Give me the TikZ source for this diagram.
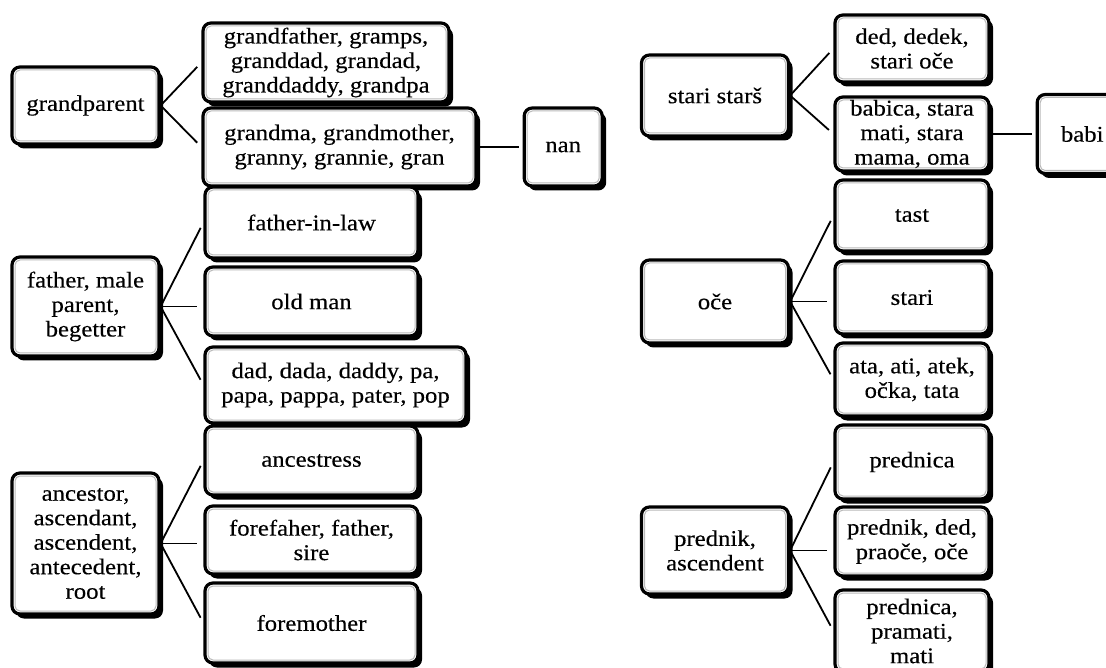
\documentclass[tikz,border=0pt]{standalone}
\usepackage{fontspec}
\setmainfont[FakeStretch=1.1]{Liberation Serif}
\newfontfamily\boxfont[FakeStretch=1.1,FakeBold=0.3]{Liberation Serif}
\usepackage{tikz}
\usetikzlibrary{shadows,positioning}

\begin{document}
\begin{tikzpicture}[x=1pt,y=-1pt,node distance=45pt,
    box/.style={draw=black,line width=3.2pt,rounded corners=8pt,fill=white,
      align=center,inner sep=0pt,font=\boxfont\fontsize{22.5}{24.5}\selectfont,
      drop shadow={shadow xshift=4pt,shadow yshift=-4.5pt,fill=black,opacity=1},
      path picture={\draw[gray!55,line width=1pt,rounded corners=5pt]
        ([shift={(3pt,-3pt)}]path picture bounding box.north west) rectangle
        ([shift={(-3pt,3pt)}]path picture bounding box.south east);}},
    link/.style={line width=1.8pt,shorten >=6pt}]
    \useasboundingbox (0,0) rectangle (1106,668);
    % english side
    \node[box,minimum width=147pt,minimum height=77pt] (gp) at (85.5,105.5) {grandparent};
    \node[box,minimum width=246pt,minimum height=79pt] (gf) at (326,62.5) {grandfather, gramps,\\granddad, grandad,\\granddaddy, grandpa};
    \node[box,minimum width=273pt,minimum height=78pt] (gm) at (339.5,147) {grandma, grandmother,\\granny, grannie, gran};
    \node[box,minimum width=78pt,minimum height=78pt,right=of gm] (nan) {nan};
    \node[box,minimum width=147pt,minimum height=99pt] (fa) at (85.5,306.5) {father, male\\parent,\\begetter};
    \node[box,minimum width=213pt,minimum height=71pt] (fil) at (311.5,222.5) {father-in-law};
    \node[box,minimum width=213pt,minimum height=69pt] (om) at (311.5,301.5) {old man};
    \node[box,minimum width=261pt,minimum height=76pt] (dad) at (335.5,385) {dad, dada, daddy, pa,\\papa, pappa, pater, pop};
    \node[box,minimum width=147pt,minimum height=141pt] (an) at (85.5,543.5) {ancestor,\\ascendant,\\ascendent,\\antecedent,\\root};
    \node[box,minimum width=213pt,minimum height=69pt] (anc) at (311.5,460.5) {ancestress};
    \node[box,minimum width=213pt,minimum height=68pt] (ff) at (311.5,540) {forefaher, father,\\sire};
    \node[box,minimum width=213pt,minimum height=80pt] (fm) at (311.5,623) {foremother};
    % slovene side
    \node[box,minimum width=147pt,minimum height=81pt] (ss) at (715,95.5) {stari starš};
    \node[box,minimum width=154pt,minimum height=67pt] (ded) at (912,48.5) {ded, dedek,\\stari oče};
    \node[box,minimum width=154pt,minimum height=74pt] (bab) at (912,134) {babica, stara\\mati, stara\\mama, oma};
    \node[box,minimum width=90pt,minimum height=79pt,right=of bab] (babi) {babi};
    \node[box,minimum width=147pt,minimum height=83pt] (oce) at (715,301.5) {oče};
    \node[box,minimum width=154pt,minimum height=71pt] (tast) at (912,215.5) {tast};
    \node[box,minimum width=154pt,minimum height=73pt] (stari) at (912,297.5) {stari};
    \node[box,minimum width=154pt,minimum height=73pt] (ata) at (912,379.5) {ata, ati, atek,\\očka, tata};
    \node[box,minimum width=147pt,minimum height=87pt] (pa) at (715,550.5) {prednik,\\ascendent};
    \node[box,minimum width=154pt,minimum height=74pt] (pca) at (912,462) {prednica};
    \node[box,minimum width=154pt,minimum height=69pt] (pdd) at (912,541.5) {prednik, ded,\\praoče, oče};
    \node[box,minimum width=154pt,minimum height=82pt] (ppm) at (912,631) {prednica,\\pramati,\\mati};
    % links
    \draw[link] (gp.east) -- (gf.west);
    \draw[link] (gp.east) -- (gm.west);
    \draw[link,shorten >=4pt] (gm.east) -- (nan.west);
    \draw[link] (fa.east) -- (fil.west);
    \draw[link] (fa.east) -- (fa.east -| om.west);
    \draw[link] (fa.east) -- (dad.west);
    \draw[link] (an.east) -- (anc.west);
    \draw[link] (an.east) -- (an.east -| ff.west);
    \draw[link] (an.east) -- (fm.west);
    \draw[link] (ss.east) -- (ded.west);
    \draw[link] (ss.east) -- (bab.west);
    \draw[link,shorten >=4pt] (bab.east) -- (babi.west);
    \draw[link] (oce.east) -- (tast.west);
    \draw[link] (oce.east) -- (oce.east -| stari.west);
    \draw[link] (oce.east) -- (ata.west);
    \draw[link] (pa.east) -- (pca.west);
    \draw[link] (pa.east) -- (pa.east -| pdd.west);
    \draw[link] (pa.east) -- (ppm.west);
\end{tikzpicture}
\end{document}
